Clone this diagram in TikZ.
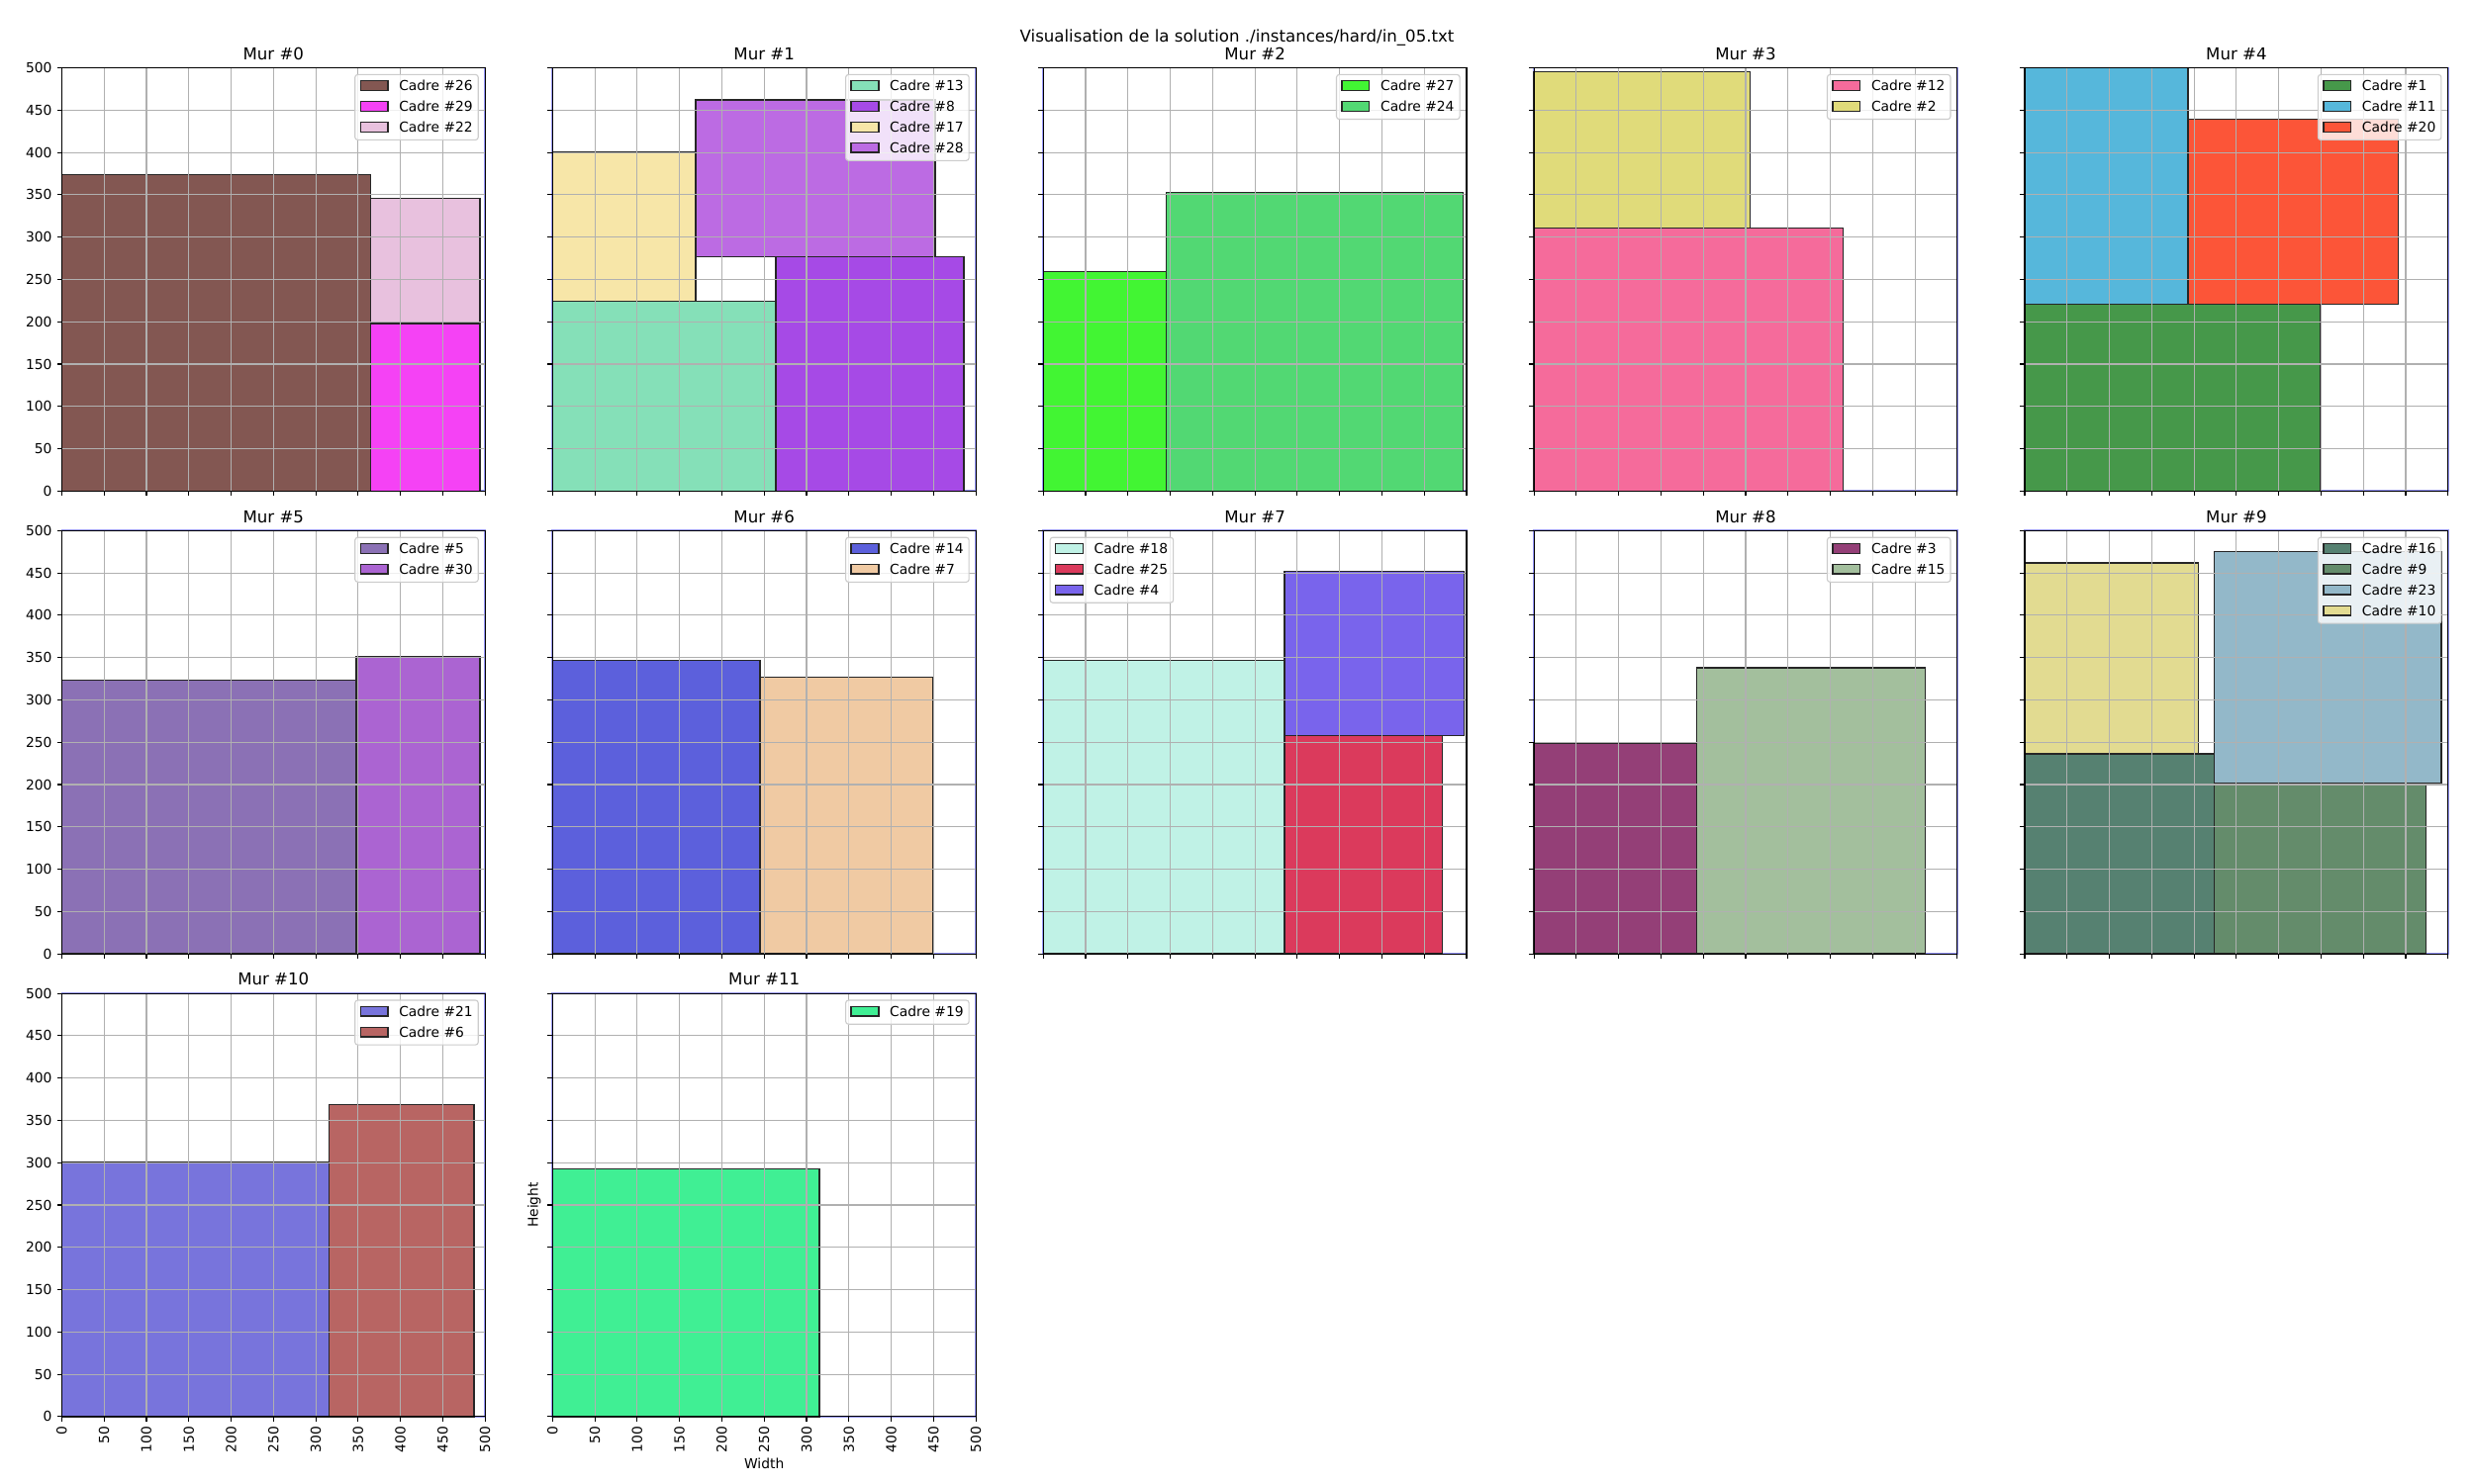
\documentclass[tikz,border=0pt]{standalone}
\usepackage{fontspec}
\setmainfont{DejaVu Sans}
\definecolor{c26}{HTML}{835752}
\definecolor{c29}{HTML}{F542F5}
\definecolor{c22}{HTML}{E8C1DE}
\definecolor{c13}{HTML}{85E0B8}
\definecolor{c8}{HTML}{A64AE6}
\definecolor{c17}{HTML}{F7E6A8}
\definecolor{c28}{HTML}{BC6BE3}
\definecolor{c27}{HTML}{42F533}
\definecolor{c24}{HTML}{52D873}
\definecolor{c12}{HTML}{F56B9B}
\definecolor{c2}{HTML}{E0DB7A}
\definecolor{c1}{HTML}{46984A}
\definecolor{c11}{HTML}{56B7DB}
\definecolor{c20}{HTML}{FC5538}
\definecolor{c5}{HTML}{8B71B5}
\definecolor{c30}{HTML}{AB64D2}
\definecolor{c14}{HTML}{5C60DC}
\definecolor{c7}{HTML}{F0CAA3}
\definecolor{c18}{HTML}{C0F2E6}
\definecolor{c25}{HTML}{DB3A5C}
\definecolor{c4}{HTML}{7964EC}
\definecolor{c3}{HTML}{943F77}
\definecolor{c15}{HTML}{A3BF9D}
\definecolor{c16}{HTML}{568171}
\definecolor{c9}{HTML}{648C6B}
\definecolor{c23}{HTML}{93B8C9}
\definecolor{c10}{HTML}{E2DB91}
\definecolor{c21}{HTML}{7874DC}
\definecolor{c6}{HTML}{B86563}
\definecolor{c19}{HTML}{40EF94}
\tikzset{
  cadre/.style={draw=black!85, line width=1pt},
  gridl/.style={draw=black!31, line width=0.8pt},
  spine/.style={draw=black, line width=0.8pt},
  tickl/.style={draw=black, line width=0.8pt},
  wallr/.style={draw=blue!40, line width=1.2pt},
  tlbl/.style={inner sep=0pt, font=\fontsize{10}{12}\selectfont},
  ttl/.style={inner sep=0pt, font=\fontsize{12}{14}\selectfont, anchor=base},
  legframe/.style={draw=black!20, fill=white, fill opacity=0.8, line width=0.8pt, rounded corners=2pt},
  lgtxt/.style={inner sep=0pt, anchor=west, font=\fontsize{10}{12}\selectfont},
  panel/.style={x=0.21732mm, y=0.21732mm}
}
\newcommand\axdeco{%
  \foreach \v in {0,50,...,500}{%
    \draw[gridl] (\v,0) -- (\v,500);
    \draw[gridl] (0,\v) -- (500,\v);
    \draw[tickl] (\v,0) -- ++(0,-3.5pt);
    \draw[tickl] (0,\v) -- ++(-3.5pt,0);
  }
  \draw[spine] (0,0) rectangle (500,500);
}
\newcommand\ylabels{\foreach \v in {0,50,...,500}{\path (0,\v) ++(-7pt,0) node[tlbl,anchor=east] (yl\v) {\v};}}
\newcommand\xlabels{\foreach \v in {0,50,...,500}{\path (\v,0) ++(0,-7pt) node[tlbl,rotate=90,anchor=east] (xl\v) {\v};}}
\newcommand\legUR[1]{\path (500,500) ++(-95pt,-5pt) coordinate (lg); \draw[legframe] (lg) rectangle ++(90pt,{-17.5pt-15.1pt*(#1-1)});}
\newcommand\legUL[1]{\path (0,500) ++(5pt,-5pt) coordinate (lg); \draw[legframe] (lg) rectangle ++(90pt,{-17.5pt-15.1pt*(#1-1)});}
\newcommand\legitem[3]{\draw[cadre,fill=#2] (lg) ++(4pt,{-4.6pt-15.1pt*#1}) rectangle ++(20pt,-7pt); \path (lg) ++(32pt,{-8.1pt-15.1pt*#1}) node[lgtxt] (lt#3) {Cadre \##3};}
\newcommand\wtitle[1]{\path (250,500) ++(0,6pt) node[ttl] (tt#1) {Mur \##1};}
\begin{document}
\begin{tikzpicture}[x=0.254mm, y=-0.254mm]
\useasboundingbox (0,0) rectangle (2500,1500);
\fill[white] (0,0) rectangle (2500,1500);
\node[anchor=north, inner sep=0pt, font=\fontsize{12}{14}\selectfont] (sup) at (1250,30) {Visualisation de la solution ./instances/hard/in\_05.txt};

% Mur 0
\begin{scope}[shift={(62.4,496.3)}, panel]
\draw[wallr] (0,0) rectangle (500,500);
\draw[cadre, fill=c26] (0,0) rectangle (365,374);
\draw[cadre, fill=c29] (365,0) rectangle (494,198);
\draw[cadre, fill=c22] (365,198) rectangle (494,346);
\axdeco \ylabels \wtitle{0}
\legUR{3} \legitem{0}{c26}{26} \legitem{1}{c29}{29} \legitem{2}{c22}{22}
\end{scope}

% Mur 1
\begin{scope}[shift={(558.3,496.3)}, panel]
\draw[wallr] (0,0) rectangle (500,500);
\draw[cadre, fill=c13] (0,0) rectangle (264,224);
\draw[cadre, fill=c8] (264,0) rectangle (486,277);
\draw[cadre, fill=c17] (0,224) rectangle (169,400);
\draw[cadre, fill=c28] (169,277) rectangle (452,462);
\axdeco \wtitle{1}
\legUR{4} \legitem{0}{c13}{13} \legitem{1}{c8}{8} \legitem{2}{c17}{17} \legitem{3}{c28}{28}
\end{scope}

% Mur 2
\begin{scope}[shift={(1054.2,496.3)}, panel]
\draw[wallr] (0,0) rectangle (500,500);
\draw[cadre, fill=c27] (0,0) rectangle (145,259);
\draw[cadre, fill=c24] (145,0) rectangle (496,353);
\axdeco \wtitle{2}
\legUR{2} \legitem{0}{c27}{27} \legitem{1}{c24}{24}
\end{scope}

% Mur 3
\begin{scope}[shift={(1550.1,496.3)}, panel]
\draw[wallr] (0,0) rectangle (500,500);
\draw[cadre, fill=c12] (0,0) rectangle (365,311);
\draw[cadre, fill=c2] (0,311) rectangle (255,495);
\axdeco \wtitle{3}
\legUR{2} \legitem{0}{c12}{12} \legitem{1}{c2}{2}
\end{scope}

% Mur 4
\begin{scope}[shift={(2046.0,496.3)}, panel]
\draw[wallr] (0,0) rectangle (500,500);
\draw[cadre, fill=c1] (0,0) rectangle (349,221);
\draw[cadre, fill=c11] (0,221) rectangle (193,500);
\draw[cadre, fill=c20] (193,221) rectangle (441,439);
\axdeco \wtitle{4}
\legUR{3} \legitem{0}{c1}{1} \legitem{1}{c11}{11} \legitem{2}{c20}{20}
\end{scope}

% Mur 5
\begin{scope}[shift={(62.4,964.1)}, panel]
\draw[wallr] (0,0) rectangle (500,500);
\draw[cadre, fill=c5] (0,0) rectangle (348,323);
\draw[cadre, fill=c30] (348,0) rectangle (494,351);
\axdeco \ylabels \wtitle{5}
\legUR{2} \legitem{0}{c5}{5} \legitem{1}{c30}{30}
\end{scope}

% Mur 6
\begin{scope}[shift={(558.3,964.1)}, panel]
\draw[wallr] (0,0) rectangle (500,500);
\draw[cadre, fill=c14] (0,0) rectangle (245,347);
\draw[cadre, fill=c7] (245,0) rectangle (449,327);
\axdeco \wtitle{6}
\legUR{2} \legitem{0}{c14}{14} \legitem{1}{c7}{7}
\end{scope}

% Mur 7
\begin{scope}[shift={(1054.2,964.1)}, panel]
\draw[wallr] (0,0) rectangle (500,500);
\draw[cadre, fill=c18] (0,0) rectangle (285,347);
\draw[cadre, fill=c25] (285,0) rectangle (471,258);
\draw[cadre, fill=c4] (285,258) rectangle (497,452);
\axdeco \wtitle{7}
\legUL{3} \legitem{0}{c18}{18} \legitem{1}{c25}{25} \legitem{2}{c4}{4}
\end{scope}

% Mur 8
\begin{scope}[shift={(1550.1,964.1)}, panel]
\draw[wallr] (0,0) rectangle (500,500);
\draw[cadre, fill=c3] (0,0) rectangle (192,249);
\draw[cadre, fill=c15] (192,0) rectangle (462,338);
\axdeco \wtitle{8}
\legUR{2} \legitem{0}{c3}{3} \legitem{1}{c15}{15}
\end{scope}

% Mur 9
\begin{scope}[shift={(2046.0,964.1)}, panel]
\draw[wallr] (0,0) rectangle (500,500);
\draw[cadre, fill=c16] (0,0) rectangle (224,236);
\draw[cadre, fill=c9] (224,0) rectangle (474,202);
\draw[cadre, fill=c23] (224,202) rectangle (492,475);
\draw[cadre, fill=c10] (0,236) rectangle (205,462);
\axdeco \wtitle{9}
\legUR{4} \legitem{0}{c16}{16} \legitem{1}{c9}{9} \legitem{2}{c23}{23} \legitem{3}{c10}{10}
\end{scope}

% Mur 10
\begin{scope}[shift={(62.4,1431.9)}, panel]
\draw[wallr] (0,0) rectangle (500,500);
\draw[cadre, fill=c21] (0,0) rectangle (316,301);
\draw[cadre, fill=c6] (316,0) rectangle (487,369);
\axdeco \ylabels \xlabels \wtitle{10}
\legUR{2} \legitem{0}{c21}{21} \legitem{1}{c6}{6}
\end{scope}

% Mur 11
\begin{scope}[shift={(558.3,1431.9)}, panel]
\draw[wallr] (0,0) rectangle (500,500);
\draw[cadre, fill=c19] (0,0) rectangle (315,293);
\axdeco \xlabels \wtitle{11}
\legUR{1} \legitem{0}{c19}{19}
\path (250,0) ++(0,-30.5pt) node[anchor=north, inner sep=0pt, font=\fontsize{10}{12}\selectfont] (xlab) {Width};
\path (0,250) ++(-13.3pt,0) node[rotate=90, inner sep=0pt, font=\fontsize{10}{12}\selectfont] (ylab) {Height};
\end{scope}
\end{tikzpicture}
\end{document}
